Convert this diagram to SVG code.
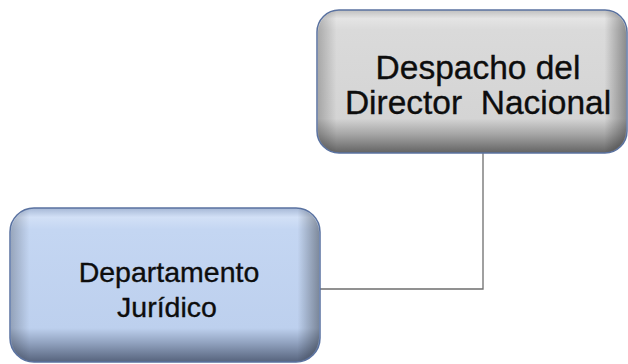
<svg xmlns="http://www.w3.org/2000/svg" width="628" height="364" viewBox="0 0 628 364">
<style>
.lbl{font-family:"Liberation Sans",Arial,sans-serif;fill:#0d0d0d;stroke:#0d0d0d;stroke-width:0.35;text-anchor:middle}
.edge{fill:url(#hshade)}
.conn{fill:none;stroke:#6e6e6e;stroke-width:1.3}
</style>
<defs>
<linearGradient id="gray" x1="0" y1="0" x2="0" y2="1">
<stop offset="0" stop-color="#bfbfbf"/>
<stop offset="0.06" stop-color="#e4e4e4"/>
<stop offset="0.14" stop-color="#dadada"/>
<stop offset="0.76" stop-color="#d4d4d4"/>
<stop offset="0.87" stop-color="#a5a5a5"/>
<stop offset="1" stop-color="#636363"/>
</linearGradient>
<linearGradient id="blue" x1="0" y1="0" x2="0" y2="1">
<stop offset="0" stop-color="#a6b8d6"/>
<stop offset="0.06" stop-color="#d2e0f6"/>
<stop offset="0.14" stop-color="#c4d6f2"/>
<stop offset="0.78" stop-color="#bdd0ee"/>
<stop offset="0.88" stop-color="#8fa0bd"/>
<stop offset="1" stop-color="#56637c"/>
</linearGradient>
<linearGradient id="hshade" x1="0" y1="0" x2="1" y2="0">
<stop offset="0" stop-color="#000" stop-opacity="0.22"/>
<stop offset="0.06" stop-color="#000" stop-opacity="0"/>
<stop offset="0.93" stop-color="#000" stop-opacity="0"/>
<stop offset="1" stop-color="#000" stop-opacity="0.35"/>
</linearGradient>
</defs>
<g id="connectors">
<path class="conn" d="M483 153 V289 H320"/>
</g>
<g id="node-despacho">
<rect x="317" y="10" width="310" height="143" rx="22" fill="url(#gray)" stroke="#5a72a0" stroke-width="1.5"/>
<rect x="318" y="11" width="308" height="141" rx="21" class="edge"/>
<text class="lbl" font-size="33.5" x="478" y="79">Despacho del</text>
<text class="lbl" font-size="33.5" x="478" y="114" xml:space="preserve">Director  Nacional</text>
</g>
<g id="node-juridico">
<rect x="10" y="208" width="310" height="154" rx="24" fill="url(#blue)" stroke="#5a72a0" stroke-width="1.5"/>
<rect x="11" y="209" width="308" height="152" rx="23" class="edge"/>
<text class="lbl" font-size="28.5" x="169" y="282">Departamento</text>
<text class="lbl" font-size="28.5" x="167" y="317">Jurídico</text>
</g>
</svg>
